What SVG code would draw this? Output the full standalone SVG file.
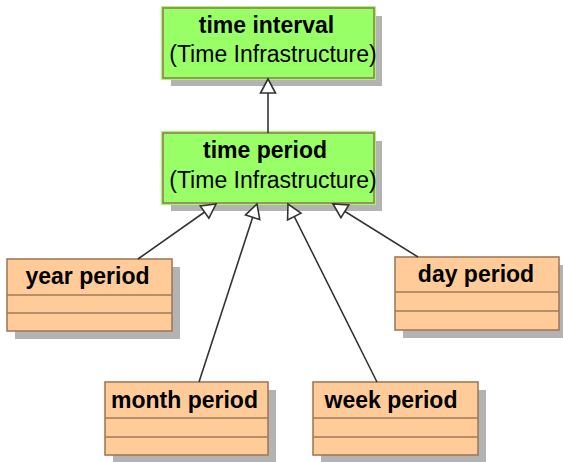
<svg xmlns="http://www.w3.org/2000/svg" width="563" height="462" viewBox="0 0 563 462">
<defs>
<style>
.shadow{fill:#b3b3b3;}
.green{fill:#99ff66;stroke:#99ff66;stroke-width:4;}
.gborder{fill:none;stroke:#9a7a58;stroke-width:1.6;}
.orange{fill:#ffcc99;stroke:#a07a58;stroke-width:1.6;}
.div{stroke:#a07a58;stroke-width:1.6;}
.b{font-family:"Liberation Sans",Arial,sans-serif;font-weight:bold;font-size:23px;fill:#000;text-anchor:middle;}
.r{font-family:"Liberation Sans",Arial,sans-serif;font-size:23px;fill:#000;text-anchor:middle;}
.conn{stroke:#333;stroke-width:1.6;fill:none;marker-end:url(#tri);}
</style>
<marker id="tri" viewBox="-16 -9 18 18" refX="0" refY="0" markerWidth="18" markerHeight="18" markerUnits="userSpaceOnUse" orient="auto">
<path d="M0,0 L-14,-7.5 L-14,7.5 Z" fill="#fff" stroke="#333" stroke-width="1.6" stroke-linejoin="miter"/>
</marker>
</defs>

<g id="time-interval">
<rect class="shadow" x="171" y="16" width="211" height="70"/>
<rect class="green" x="163" y="8" width="211" height="70"/>
<rect class="gborder" x="163" y="8" width="211" height="70"/>
<text class="b" x="266.5" y="33">time interval</text>
<text class="r" x="273" y="62">(Time Infrastructure)</text>
</g>

<g id="time-period">
<rect class="shadow" x="171" y="141" width="211" height="70"/>
<rect class="green" x="163" y="133" width="211" height="70"/>
<rect class="gborder" x="163" y="133" width="211" height="70"/>
<text class="b" x="265" y="158">time period</text>
<text class="r" x="273" y="188">(Time Infrastructure)</text>
</g>

<g id="year-period">
<rect class="shadow" x="15" y="267" width="165" height="72"/>
<rect class="orange" x="7" y="259" width="165" height="72"/>
<line class="div" x1="7" y1="295" x2="172" y2="295"/>
<line class="div" x1="7" y1="313" x2="172" y2="313"/>
<text class="b" x="87.5" y="284">year period</text>
</g>

<g id="day-period">
<rect class="shadow" x="403" y="265" width="164" height="73"/>
<rect class="orange" x="395" y="257" width="164" height="73"/>
<line class="div" x1="395" y1="292" x2="559" y2="292"/>
<line class="div" x1="395" y1="311" x2="559" y2="311"/>
<text class="b" x="476" y="282">day period</text>
</g>

<g id="month-period">
<rect class="shadow" x="113" y="390" width="163" height="73"/>
<rect class="orange" x="105" y="382" width="163" height="73"/>
<line class="div" x1="105" y1="418" x2="268" y2="418"/>
<line class="div" x1="105" y1="437" x2="268" y2="437"/>
<text class="b" x="184.5" y="408">month period</text>
</g>

<g id="week-period">
<rect class="shadow" x="321" y="390" width="165" height="73"/>
<rect class="orange" x="313" y="382" width="165" height="73"/>
<line class="div" x1="313" y1="418" x2="478" y2="418"/>
<line class="div" x1="313" y1="437" x2="478" y2="437"/>
<text class="b" x="391" y="408">week period</text>
</g>

<g id="connectors">
<path class="conn" d="M268,133 L268,79"/>
<path class="conn" d="M138,259 L216,204"/>
<path class="conn" d="M199,382 L257,204"/>
<path class="conn" d="M377,382 L288,204"/>
<path class="conn" d="M418,257 L333,204"/>
</g>
</svg>
